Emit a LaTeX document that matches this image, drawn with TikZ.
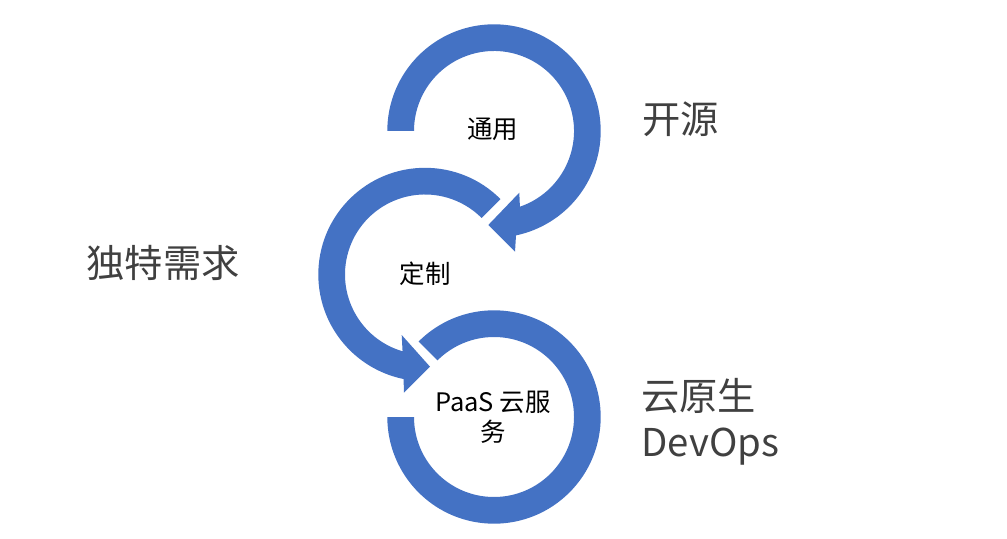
\documentclass[tikz,border=0pt]{standalone}
\usepackage{fontspec}
\setmainfont{Noto Sans CJK SC}
\usetikzlibrary{calc}
\definecolor{ringblue}{HTML}{4472C4}
\definecolor{labelgray}{HTML}{404040}
\begin{document}
\begin{tikzpicture}[x=0.02cm,y=0.02cm,
  ring/.style={fill=ringblue, draw=none},
  biglabel/.style={font=\fontsize{21.8pt}{26pt}\selectfont, text=labelgray, inner sep=0pt},
  smalllabel/.style={font=\fontsize{14.5pt}{17.3pt}\selectfont, text=black, inner sep=0pt, align=center}]
\useasboundingbox (0,0) rectangle (1007,538);
\coordinate (c1) at (494,407);
\coordinate (c2) at (425,263.5);
\coordinate (c3) at (494,121);
% ring 1 (top) with arrowhead
\fill[ring] ($(c1)+(180:106.7)$) arc[start angle=180,end angle=-78.1,radius=106.7]
  -- (515,286.3) -- (488.3,313) -- (519.3,345.3)
  -- ($(c1)+(-71.1:80)$) arc[start angle=-71.1,end angle=180,radius=80] -- cycle;
% ring 2 (middle) with arrowhead
\fill[ring] ($(c2)+(45:106.7)$) arc[start angle=45,end angle=258.4,radius=106.7]
  -- (404,145.3) -- (430,171.3) -- (401.7,203)
  -- ($(c2)+(253.7:80)$) arc[start angle=253.7,end angle=45,radius=80] -- cycle;
% ring 3 (bottom)
\fill[ring] ($(c3)+(135:106.7)$) arc[start angle=135,end angle=-180,radius=106.7]
  -- ($(c3)+(180:80)$) arc[start angle=-180,end angle=135,radius=80] -- cycle;
% inner texts
\node[smalllabel] (t1) at (492.5,409) {通用};
\node[smalllabel] (t2) at (425,264.5) {定制};
\node[smalllabel] (t3) at (493,121) {PaaS 云服\\务};
% outer labels
\node[biglabel] (l1) at (680.3,418.6) {开源};
\node[biglabel] (l2) at (163.3,274.7) {独特需求};
\node[biglabel, anchor=base west] (l3) at (641,127.7) {云原生};
\node[biglabel, anchor=base west] (l4) at (641,81.3) {DevOps};
\end{tikzpicture}
\end{document}
